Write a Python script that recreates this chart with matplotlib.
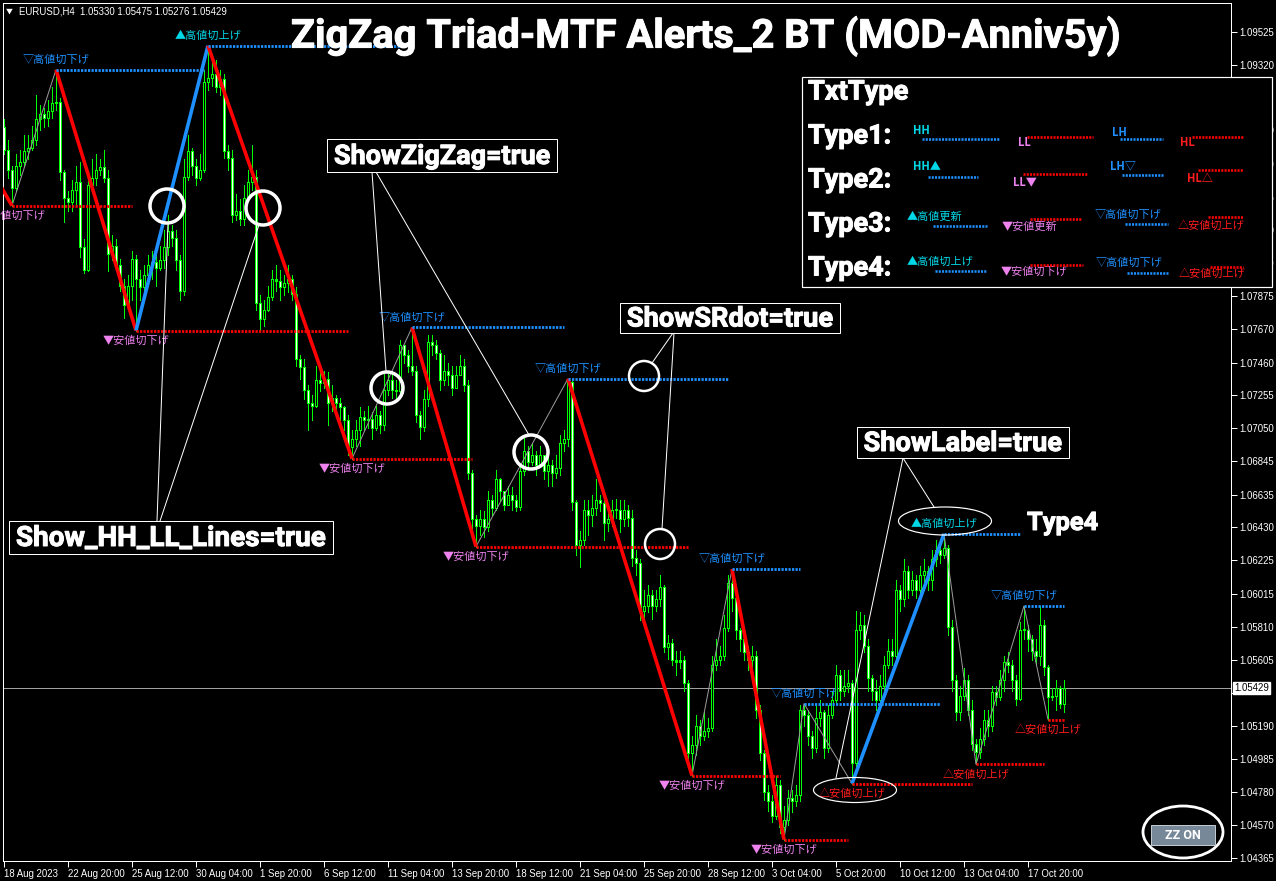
import numpy as np
import matplotlib
matplotlib.use("Agg")
import matplotlib.pyplot as plt
import matplotlib.patheffects as pe
from matplotlib.collections import LineCollection
from matplotlib.patches import Rectangle, Ellipse, Circle

# ---------------- data: prices in pips above 1.04000 (EURUSD H4) ----------------
BASE_PRICE = 1.04
PIP = 0.0001
first_open = 493
closes = [479, 466, 455, 469, 471, 478, 480, 485, 498, 501, 499, 503, 508, 509, 465, 449, 446, 454, 459, 418,
          404, 457, 461, 466, 468, 461, 414, 419, 407, 394, 382, 394, 411, 398, 393, 401, 407, 409, 405, 410,
          418, 428, 424, 410, 391, 462, 478, 469, 461, 466, 521, 524, 526, 518, 523, 478, 474, 438, 441, 436,
          449, 459, 462, 383, 373, 379, 387, 398, 397, 393, 396, 398, 389, 348, 343, 329, 321, 319, 335, 333,
          336, 321, 324, 321, 318, 310, 293, 298, 304, 312, 310, 311, 305, 313, 307, 329, 335, 329, 328, 357,
          351, 344, 341, 313, 306, 323, 359, 357, 352, 335, 341, 338, 330, 338, 344, 332, 277, 248, 244, 248,
          243, 260, 255, 273, 266, 257, 263, 260, 256, 278, 291, 284, 288, 282, 288, 278, 282, 277, 280, 296,
          298, 334, 259, 232, 235, 254, 251, 255, 260, 258, 246, 248, 254, 254, 248, 254, 249, 224, 221, 191,
          194, 201, 194, 198, 206, 168, 171, 160, 159, 160, 146, 102, 107, 119, 113, 116, 118, 157, 160, 163,
          180, 208, 199, 179, 173, 165, 160, 163, 129, 102, 78, 72, 63, 82, 56, 60, 74, 72, 76, 129,
          126, 113, 105, 124, 128, 105, 126, 135, 151, 141, 144, 146, 96, 179, 182, 169, 149, 141, 135, 144,
          157, 166, 163, 204, 198, 216, 204, 210, 204, 213, 216, 210, 223, 229, 226, 230, 181, 148, 128, 138,
          148, 129, 108, 103, 111, 123, 119, 140, 137, 148, 159, 157, 148, 136, 179, 179, 173, 166, 163, 182,
          156, 137, 138, 143, 133, 142.9]
highs = [498, 485, 469, 476, 479, 488, 488, 494, 513, 507, 505, 510, 518, 529, 511, 466, 453, 460, 469, 471,
         423, 463, 473, 476, 473, 479, 466, 426, 423, 411, 398, 401, 416, 413, 404, 407, 413, 416, 413, 419,
         429, 438, 432, 429, 413, 473, 488, 480, 473, 476, 529, 544, 534, 535, 529, 526, 482, 479, 451, 448,
         457, 466, 482, 466, 388, 385, 394, 404, 407, 404, 401, 407, 401, 393, 351, 348, 332, 326, 344, 340,
         341, 340, 332, 326, 324, 319, 313, 304, 310, 318, 316, 319, 315, 319, 316, 340, 341, 338, 335, 360,
         357, 354, 368, 344, 316, 329, 363, 363, 360, 354, 351, 346, 344, 344, 351, 348, 335, 279, 251, 254,
         253, 266, 263, 279, 274, 266, 269, 268, 263, 282, 299, 294, 296, 291, 294, 288, 288, 285, 288, 301,
         304, 336, 335, 260, 241, 260, 260, 263, 273, 263, 260, 257, 260, 261, 260, 260, 257, 254, 229, 223,
         204, 207, 204, 204, 213, 207, 176, 173, 166, 166, 163, 148, 113, 126, 123, 128, 124, 163, 173, 169,
         188, 213, 217, 201, 180, 174, 169, 169, 166, 132, 104, 82, 76, 88, 85, 69, 79, 79, 82, 132,
         133, 129, 116, 132, 135, 129, 132, 141, 157, 154, 154, 154, 148, 191, 190, 188, 173, 151, 148, 151,
         163, 173, 173, 210, 207, 223, 219, 216, 213, 219, 223, 219, 229, 235, 235, 239, 232, 185, 151, 144,
         155, 151, 135, 111, 118, 129, 129, 144, 144, 154, 163, 165, 160, 151, 184, 194, 182, 176, 173, 194,
         185, 157, 143, 148, 144, 147.5]
lows = [476, 461, 444, 453, 463, 469, 473, 479, 482, 491, 493, 494, 499, 504, 460, 434, 441, 441, 444, 412,
        402, 403, 454, 457, 463, 459, 403, 410, 404, 391, 374, 380, 385, 366, 385, 388, 394, 398, 394, 404,
        405, 413, 419, 404, 385, 388, 460, 463, 457, 460, 465, 516, 519, 515, 513, 474, 466, 434, 435, 432,
        432, 451, 454, 379, 366, 369, 378, 385, 391, 385, 388, 390, 385, 344, 336, 323, 304, 310, 318, 328,
        330, 307, 316, 313, 310, 304, 288, 286, 294, 294, 304, 305, 298, 304, 302, 304, 326, 324, 323, 324,
        346, 340, 338, 309, 298, 303, 319, 351, 348, 329, 332, 332, 326, 332, 338, 328, 273, 241, 231, 238,
        237, 241, 251, 254, 260, 254, 257, 254, 253, 254, 276, 279, 282, 276, 282, 273, 269, 269, 274, 276,
        291, 294, 254, 226, 218, 232, 238, 244, 251, 253, 235, 241, 244, 249, 240, 244, 244, 219, 213, 185,
        182, 190, 186, 191, 194, 165, 161, 157, 151, 155, 141, 98, 88, 101, 107, 110, 112, 116, 154, 157,
        160, 178, 191, 173, 166, 160, 154, 155, 124, 98, 73, 66, 59, 61, 52, 48, 57, 65, 69, 72,
        119, 107, 99, 103, 119, 99, 103, 124, 134, 135, 138, 140, 83, 94, 173, 165, 141, 135, 129, 132,
        141, 155, 157, 160, 191, 194, 199, 201, 199, 201, 207, 204, 204, 219, 221, 224, 176, 141, 123, 123,
        135, 126, 104, 95, 99, 107, 113, 116, 132, 135, 141, 153, 141, 132, 135, 173, 166, 160, 157, 157,
        151, 123, 135, 129, 130, 127.6]

date_tick_bars = list(range(0, 257, 16))
date_labels = ["18 Aug 2023", "22 Aug 20:00", "25 Aug 12:00", "30 Aug 04:00", "1 Sep 20:00",
               "6 Sep 12:00", "11 Sep 04:00", "13 Sep 20:00", "18 Sep 12:00", "21 Sep 04:00",
               "25 Sep 20:00", "28 Sep 12:00", "3 Oct 04:00", "5 Oct 20:00", "10 Oct 12:00",
               "13 Oct 04:00", "17 Oct 20:00"]
price_ticks = [1.09525, 1.09320, 1.09115, 1.08910, 1.08700, 1.08495, 1.08290, 1.08080, 1.07875,
               1.07670, 1.07460, 1.07255, 1.07050, 1.06845, 1.06635, 1.06430, 1.06225, 1.06015,
               1.05810, 1.05605, 1.05395, 1.05190, 1.04985, 1.04780, 1.04570, 1.04365]
symbol_name = "EURUSD,H4"
title_text = "ZigZag Triad-MTF Alerts_2 BT (MOD-Anniv5y)"

# ZigZag pivots (bar index) and the off-screen pivot the first leg comes from
lead_in_bar, lead_in_pips = -1, 457
pivot_bars = [2, 13, 33, 51, 87, 102, 118, 141, 172, 182, 195, 200, 212, 235, 243, 255, 261]
pivot_kind = "LHLHLHLHLHLHLHLHL"
seg_style = ["red", "minor", "red", "blue", "red", "minor", "red", "minor", "red", "minor",
             "red", "minor", "minor", "blue", "minor", "minor", "minor"]
sr_end_bars = [32, 50, 86, 100, 117, 140, 171, 181, 194, 199, 211, 234, 242, 254, 260, 265, 265]
pivot_labels = ["▼安値切下げ", "▽高値切下げ", "▼安値切下げ", "▲高値切上げ", "▼安値切下げ", "▽高値切下げ",
                "▼安値切下げ", "▽高値切下げ", "▼安値切下げ", "▽高値切下げ", "▼安値切下げ", "▽高値切下げ",
                "△安値切上げ", "▲高値切上げ", "△安値切上げ", "▽高値切下げ", "△安値切上げ"]

# ---------------- styling ----------------
CJK = ["Noto Sans CJK JP", "DejaVu Sans"]
BOLD = ["Roboto", "DejaVu Sans"]
AXF = ["Liberation Sans", "DejaVu Sans"]
LIME = "#00ff00"
BLUE = "#1e90ff"
RED = "#ff0000"
label_colors = {"▲": "#00d8e8", "▽": BLUE, "▼": "#ee82ee", "△": "#ff1c1c"}
HEAVY = [pe.withStroke(linewidth=0.7, foreground="white")]

W, H = 1276, 881
PT = 72 / 100.0
fig = plt.figure(figsize=(W / 100, H / 100), dpi=100, facecolor="black")
ax = fig.add_axes([3 / W, 20 / H, 1228 / W, 858 / H])
ax.set_facecolor("black")
YMIN, YMAX = 1.043462, 1.097063
ax.set_xlim(-0.25, 306.75)
ax.set_ylim(YMIN, YMAX)
px_y = (YMAX - YMIN) / 858.0

n = len(closes)
xb = np.arange(n)
o = BASE_PRICE + PIP * np.array([first_open] + closes[:-1], float)
c = BASE_PRICE + PIP * np.array(closes, float)
hi = np.maximum(BASE_PRICE + PIP * np.array(highs, float), np.maximum(o, c))
lo = np.minimum(BASE_PRICE + PIP * np.array(lows, float), np.minimum(o, c))

# current price line
ax.axhline(c[-1], color="#a0a0a0", lw=1 * PT, zorder=1)

# candles
wicks = [[(x, l), (x, h)] for x, l, h in zip(xb, lo, hi)]
ax.add_collection(LineCollection(wicks, colors=LIME, linewidths=1 * PT, antialiaseds=False, zorder=2))
outer, inner, inner_cols = [], [], []
for x, op, cl in zip(xb, o, c):
    b, t = min(op, cl), max(op, cl)
    if t - b < px_y:
        m = (t + b) / 2
        b, t = m - px_y / 2, m + px_y / 2
    outer.append([(x, b), (x, t)])
    if t - b > 2.2 * px_y:
        inner.append([(x, b + px_y), (x, t - px_y)])
        inner_cols.append("white" if cl < op else "black")
ax.add_collection(LineCollection(outer, colors=LIME, linewidths=3 * PT, antialiaseds=False,
                                 capstyle="butt", zorder=2.1))
ax.add_collection(LineCollection(inner, colors=inner_cols, linewidths=1 * PT, antialiaseds=False,
                                 capstyle="butt", zorder=2.2))

# zigzag
piv_val = [hi[b] if k == "H" else lo[b] for b, k in zip(pivot_bars, pivot_kind)]
zz_x = [lead_in_bar] + pivot_bars
zz_y = [BASE_PRICE + PIP * lead_in_pips] + piv_val
style_map = {"red": (RED, 3.6, 4), "blue": (BLUE, 3.6, 4), "minor": ("#9a9a9a", 1.0, 3)}
for k, st in enumerate(seg_style):
    col, w, z = style_map[st]
    ax.plot(zz_x[k:k + 2], zz_y[k:k + 2], color=col, lw=w * PT, zorder=z, solid_capstyle="butt")

# SR dots + labels
for b, k, e, v, lbl in zip(pivot_bars, pivot_kind, sr_end_bars, piv_val, pivot_labels):
    ax.plot([b, e], [v, v], color=BLUE if k == "H" else RED, lw=2.8 * PT,
            linestyle=(0, (0.8, 0.45)), dash_capstyle="butt", zorder=5)
    ax.annotate(lbl, (b, v), xytext=(0, 10 if k == "H" else -10), textcoords="offset pixels",
                ha="center", va="center", fontsize=8, color=label_colors[lbl[0]], family=CJK,
                zorder=6, annotation_clip=False)

# axes decoration
for s in ax.spines.values():
    s.set_color("white")
    s.set_linewidth(1 * PT)
ax.set_xticks(date_tick_bars)
ax.set_xticklabels(date_labels, fontsize=6.9, color="white", family=AXF)
for t in ax.get_xticklabels():
    t.set_horizontalalignment("left")
ax.tick_params(axis="x", direction="out", length=4, width=1 * PT, color="white", pad=2)
ax.yaxis.tick_right()
ax.set_yticks(price_ticks)
# the tick right under the live price box keeps its mark; its label is covered by the box
ax.set_yticklabels(["" if abs(v - c[-1]) < 0.0005 else f"{v:.5f}" for v in price_ticks],
                   fontsize=6.9, color="white", family=AXF)
ax.tick_params(axis="y", direction="out", length=4, width=1 * PT, color="white", pad=2)
ax.annotate(f"{c[-1]:.5f}", xy=(1, c[-1]), xycoords=("axes fraction", "data"), xytext=(3, 0),
            textcoords="offset pixels", ha="left", va="center", fontsize=6.9, color="black",
            family=AXF, annotation_clip=False, zorder=20,
            bbox=dict(boxstyle="square,pad=0.12", fc="white", ec="white"))

# ---------------- overlay (pixel coordinates) ----------------
ov = fig.add_axes([0, 0, 1, 1], zorder=10)
ov.set_xlim(0, W)
ov.set_ylim(H, 0)
ov.axis("off")
renderer = fig.canvas.get_renderer()


def fit_text(x, y, s, width, ha="center", **kw):
    t = ov.text(x, y, s, ha=ha, va="center", fontsize=20, **kw)
    wpx = t.get_window_extent(renderer).width
    t.set_fontsize(20 * width / wpx)
    return t


ov.text(9, 12, "▼", fontsize=5, color="white", ha="center", va="center", family=CJK)
ov.text(19, 12, f"{symbol_name}  {o[-1]:.5f} {hi[-1]:.5f} {lo[-1]:.5f} {c[-1]:.5f}",
        fontsize=6.9, color="white", ha="left", va="center", family=AXF)

fit_text(705, 36, title_text, 828, color="white", weight="bold", family=BOLD, path_effects=HEAVY)

boxes = [(327, 139, 230, 33, "ShowZigZag=true"), (620, 303, 220, 30, "ShowSRdot=true"),
         (857, 427, 212, 31, "ShowLabel=true"), (9, 521, 324, 33, "Show_HH_LL_Lines=true")]
for bx, by, bw, bh, s in boxes:
    ov.add_patch(Rectangle((bx, by), bw, bh, fc="black", ec="white", lw=1 * PT, zorder=5))
    t = fit_text(bx + bw / 2, by + bh / 2 + 1, s, bw - 14, color="white", weight="bold", family=BOLD,
                 path_effects=HEAVY)
    t.set_zorder(6)
fit_text(1027, 523, "Type4", 71, ha="left", color="white", weight="bold", family=BOLD, path_effects=HEAVY)

circles = [(167, 206, 17, 3.5), (263, 208, 17, 3.5), (387, 388, 16, 3.5), (531, 452, 17, 3.5),
           (644, 376, 15, 2.5), (660, 544, 15, 2.5)]
for cx, cy, r, w in circles:
    ov.add_patch(Circle((cx, cy), r, fill=False, ec="white", lw=w * PT, zorder=4))
callouts = [((372, 172), (386, 371)), ((376, 172), (529, 435)), ((157, 521), (168, 223)),
            ((160, 521), (259, 225)), ((673, 333), (652, 363)), ((674, 333), (662, 529)),
            ((903, 458), (934, 507)), ((903, 458), (836, 778))]
for (x0, y0), (x1, y1) in callouts:
    ov.plot([x0, x1], [y0, y1], color="white", lw=1 * PT, zorder=4)
for cx, cy, ew, eh, w in [(945, 521, 93, 28, 1.2), (855, 790, 83, 25, 1.2), (1183, 832, 80, 52, 2.8)]:
    ov.add_patch(Ellipse((cx, cy), ew, eh, fill=False, ec="white", lw=w * PT, zorder=4))

# ZZ ON button
ov.add_patch(Rectangle((1151, 825), 64, 20, fc="#778899", ec="#c0c8d0", lw=1 * PT, zorder=5))
ov.text(1183, 835.5, "ZZ ON", color="white", fontsize=9, weight="bold", ha="center", va="center",
        family=BOLD, zorder=6)

# TxtType legend inset
ov.add_patch(Rectangle((802, 77), 470, 210, fc="black", ec="white", lw=1.2 * PT, zorder=7))
fit_text(808, 92, "TxtType", 100, ha="left", color="white", weight="bold", family=BOLD,
         path_effects=HEAVY).set_zorder(8)
for k, yy in enumerate([136, 180, 224, 268]):
    fit_text(808, yy, f"Type{k + 1}:", 83, ha="left", color="white", weight="bold",
             family=BOLD, path_effects=HEAVY).set_zorder(8)

legend_items = [
    # (text, x, y, colour, line x0, line x1, line y, line colour)
    ("HH", 913, 131, "#00d8e8", 922, 1000, 139, BLUE), ("LL", 1018, 143, "#ee82ee", 1027, 1093, 137, RED),
    ("LH", 1112, 132, BLUE, 1120, 1163, 139, BLUE), ("HL", 1180, 143, "#ff1c1c", 1192, 1243, 137, RED),
    ("HH▲", 913, 167, "#00d8e8", 928, 978, 177, BLUE), ("LL▼", 1013, 182, "#ee82ee", 1023, 1087, 174, RED),
    ("LH▽", 1110, 166, BLUE, 1122, 1163, 175, BLUE), ("HL△", 1187, 178, "#ff1c1c", 1198, 1243, 170, RED),
    ("▲高値更新", 907, 217, "#00d8e8", 933, 987, 226, BLUE),
    ("▼安値更新", 1002, 227, "#ee82ee", 1030, 1082, 219, RED),
    ("▽高値切下げ", 1095, 215, BLUE, 1125, 1168, 224, BLUE),
    ("△安値切上げ", 1178, 226, "#ff1c1c", 1208, 1243, 217, RED),
    ("▲高値切上げ", 907, 262, "#00d8e8", 935, 987, 271, BLUE),
    ("▼安値切下げ", 1001, 272, "#ee82ee", 1030, 1083, 265, RED),
    ("▽高値切下げ", 1096, 263, BLUE, 1127, 1168, 273, BLUE),
    ("△安値切上げ", 1179, 274, "#ff1c1c", 1210, 1243, 267, RED),
]
for s, tx, ty, tc, lx0, lx1, ly, lc in legend_items:
    ov.text(tx, ty, s, color=tc, fontsize=8, ha="left", va="center", family=CJK, zorder=9,
            weight="bold" if s[:2] in ("HH", "LL", "LH", "HL") else "normal")
    ov.plot([lx0, lx1], [ly, ly], color=lc, lw=2.6 * PT, linestyle=(0, (0.8, 0.45)),
            dash_capstyle="butt", zorder=9)

fig.savefig("out.png", dpi=100, facecolor="black")
